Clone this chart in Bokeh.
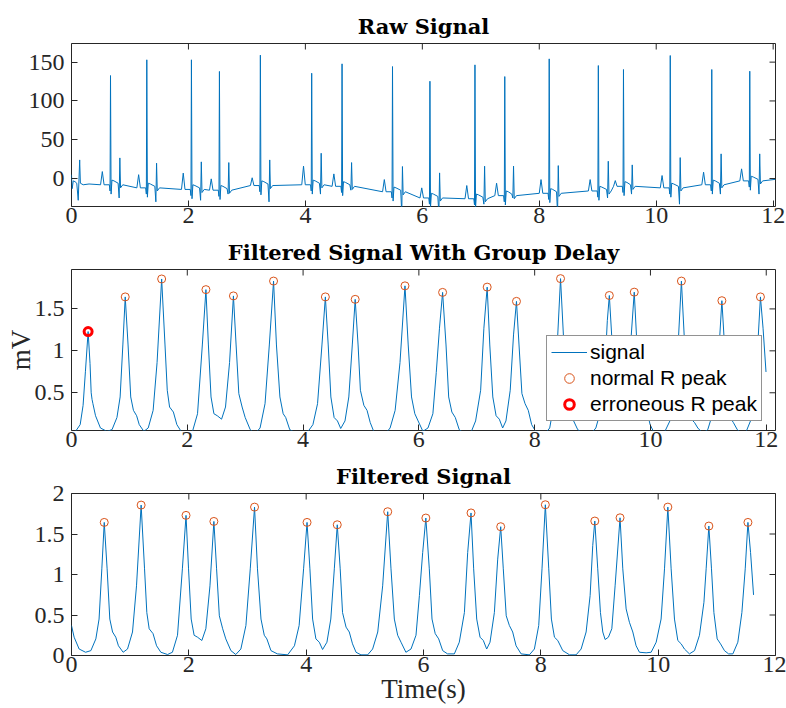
import math
from bokeh.plotting import figure
from bokeh.layouts import column
from bokeh.models import Range1d, FixedTicker, Legend, LegendItem
from bokeh.embed import file_html
from bokeh.resources import INLINE

# ---------------- data ----------------
# Raw signal: per-beat readings
r_time = [0.667, 1.288, 2.051, 2.53, 3.23, 4.108, 4.627, 5.49, 6.13, 6.90, 7.41, 8.17, 9.01, 9.44, 10.24, 10.95, 11.60]
r_amp = [132.7, 153, 153, 138, 159, 135.7, 147.8, 144.3, 125.4, 146.5, 131.4, 154.2, 145.6, 140.5, 158.5, 140.5, 138.3]
baseline = [-8, -12, -14, -15, -9, -8, -10, -17, -25, -26, -22, -19, -16, -10, -12, -8, -3]
p_peak = [9, 5, 7, -0.4, 1, 16, 6, -1.3, -12, -9, -6, -1.3, -1.3, -2.6, 3.9, 8.2, 12.5]
s2_time = [0.827, 1.455, 2.22, 2.69, 3.39, 4.27, 4.79, 5.66, 6.295, 7.065, 7.56, 8.325, 9.18, 9.59, 10.41, 11.11, 11.77]
s2_amp = [26.6, 19.8, 21.5, 20.6, 24, 32.6, 20.6, 15.5, 7.3, 15.9, 16, 16.7, 22.3, 17.6, 27, 31.8, 31.8]
dip_val = [-25, -30, -28, -20, -30, -20, -15, -45, -45, -33, -25, -45, -25, -20, -33, -20, -20]
raw_lead_t = [0.0, 0.004, 0.012, 0.03, 0.06, 0.09, 0.115, 0.14, 0.152, 0.2, 0.3]
raw_lead_v = [5, -2, -13, -3, -4, -6, -28, 24, -6, -8, -7]
raw_tail_t = [12.04]
raw_tail_v = [-1]

# Filtered signal (time axis with group delay removed)
filt_t = [-0.37, -0.30, -0.22, -0.17, -0.13, -0.083, -0.05, -0.03, -0.015, 0.0,
          0.045, 0.13, 0.24, 0.33, 0.415, 0.47, 0.517, 0.558, 0.607, 0.653, 0.70, 0.755, 0.80, 0.88, 0.955,
          1.04, 1.108, 1.187, 1.245, 1.284, 1.324, 1.39, 1.45, 1.523, 1.637, 1.72, 1.807, 1.89, 1.952, 1.995,
          2.04, 2.09, 2.148, 2.222, 2.29, 2.36, 2.427, 2.473, 2.52, 2.577, 2.63, 2.717, 2.80, 2.887, 2.973,
          3.047, 3.12, 3.17, 3.23, 3.286, 3.33, 3.40, 3.51, 3.684, 3.80, 3.88, 3.956, 4.015, 4.064, 4.11,
          4.166, 4.224, 4.28, 4.354, 4.42, 4.48, 4.53, 4.58, 4.62, 4.68, 4.735, 4.79, 4.85, 4.934, 5.048,
          5.133, 5.22, 5.304, 5.39, 5.446, 5.503, 5.56, 5.617, 5.70, 5.787, 5.872, 5.93, 5.986, 6.04, 6.099,
          6.145, 6.20, 6.259, 6.327, 6.41, 6.526, 6.61, 6.697, 6.753, 6.81, 6.855, 6.907, 6.964, 7.02, 7.077,
          7.134, 7.208, 7.265, 7.316, 7.36, 7.41, 7.464, 7.52, 7.578, 7.664, 7.805, 7.89, 7.964, 8.02, 8.077,
          8.135, 8.18, 8.232, 8.289, 8.374, 8.49, 8.601, 8.687, 8.772, 8.84, 8.885, 8.92, 8.97, 9.016, 9.056,
          9.096, 9.152, 9.21, 9.266, 9.35, 9.397, 9.454, 9.51, 9.568, 9.624, 9.681, 9.795, 9.88, 9.966, 10.05,
          10.108, 10.165, 10.221, 10.278, 10.335, 10.392, 10.448, 10.533, 10.62, 10.704, 10.78, 10.818, 10.864,
          10.909, 10.95, 11.006, 11.063, 11.13, 11.20, 11.273, 11.358, 11.427, 11.484, 11.53, 11.575, 11.626]
filt_v = [0.03, 0.04, 0.12, 0.35, 0.75, 1.23, 0.85, 0.5, 0.42, 0.37,
          0.226, 0.08, 0.04, 0.06, 0.205, 0.45, 1.07, 1.643, 1.07, 0.45, 0.29, 0.226, 0.12, 0.04, 0.08,
          0.29, 0.86, 1.857, 1.07, 0.53, 0.33, 0.27, 0.12, 0.04, 0.012, 0.04, 0.25, 1.07, 1.73, 1.07,
          0.45, 0.25, 0.226, 0.185, 0.33, 0.86, 1.655, 1.07, 0.49, 0.33, 0.205, 0.06, 0.012, 0.08, 0.37,
          1.07, 1.832, 1.07, 0.45, 0.25, 0.205, 0.06, 0.02, 0.008, 0.12, 0.37, 1.07, 1.643, 1.07, 0.45,
          0.205, 0.164, 0.074, 0.164, 0.45, 1.07, 1.614, 1.07, 0.53, 0.35, 0.29, 0.144, 0.04, 0.008, 0.008,
          0.08, 0.29, 0.86, 1.775, 1.07, 0.45, 0.25, 0.164, 0.04, 0.08, 0.25, 0.74, 1.27, 1.697, 1.07,
          0.45, 0.27, 0.205, 0.06, 0.02, 0.02, 0.164, 0.53, 1.27, 1.76, 1.07, 0.45, 0.226, 0.185, 0.08,
          0.164, 0.53, 1.19, 1.59, 1.07, 0.49, 0.37, 0.29, 0.12, 0.02, 0.008, 0.08, 0.37, 1.07, 1.861,
          1.07, 0.45, 0.226, 0.185, 0.06, 0.008, 0.008, 0.08, 0.29, 0.74, 1.36, 1.66, 1.07, 0.53, 0.29,
          0.197, 0.226, 0.33, 0.86, 1.70, 1.07, 0.575, 0.41, 0.29, 0.12, 0.04, 0.033, 0.04, 0.164, 0.45,
          1.07, 1.832, 1.07, 0.45, 0.185, 0.144, 0.08, 0.02, 0.06, 0.25, 0.657, 1.07, 1.598,
          1.07, 0.53, 0.205, 0.144, 0.06, 0.02, 0.02, 0.164, 0.53, 1.07, 1.643, 1.27, 0.748]

peak_t = [0.558, 1.187, 1.952, 2.427, 3.12, 4.015, 4.53, 5.39, 6.04, 6.81, 7.316, 8.077, 8.92, 9.35, 10.165, 10.864, 11.53]
peak_v = [1.643, 1.857, 1.73, 1.655, 1.832, 1.643, 1.614, 1.775, 1.697, 1.76, 1.59, 1.861, 1.66, 1.70, 1.832, 1.598, 1.643]
err_t = [-0.083]
err_v = [1.23]
group_delay = 0.37

x_ticks = [0, 2, 4, 6, 8, 10, 12]
y1_ticks = [0, 50, 100, 150]
y2_ticks = [0.5, 1, 1.5]
y3_ticks = [0, 0.5, 1, 1.5, 2]
tick_text = {0: "0", 0.5: "0.5", 1: "1", 1.5: "1.5", 2: "2"}

# ---------------- build raw polyline from readings ----------------
raw_t = list(raw_lead_t)
raw_v = list(raw_lead_v)
for i in range(len(r_time)):
    tr, A, b, pp = r_time[i], r_amp[i], baseline[i], p_peak[i]
    ts, sa, dv = s2_time[i], s2_amp[i], dip_val[i]
    seg_t = [tr - 0.17, tr - 0.14, tr - 0.11, tr - 0.02, tr - 0.008, tr, tr + 0.01, tr + 0.025, tr + 0.06,
             ts - 0.03, ts - 0.012, ts, ts + 0.012, ts + 0.05]
    seg_v = [b, pp, b, b, b - 8, A, b - 12, b + 6, b + 5, b + 2, dv, sa, b - 4, b]
    raw_t += seg_t
    raw_v += seg_v
raw_t += raw_tail_t
raw_v += raw_tail_v

BLUE = "#0072BD"
ORANGE = "#D95319"
AX = "#262626"
SERIF = "Liberation Serif"


def make_fig(h, top, bottom, xr, yr, title):
    p = figure(width=786, height=h, output_backend="svg", toolbar_location=None,
               x_range=Range1d(*xr), y_range=Range1d(*yr),
               min_border_left=71, min_border_right=11, min_border_top=top, min_border_bottom=bottom)
    p.title.text = title
    p.title.text_font = "DejaVu Serif"
    p.title.text_font_style = "bold"
    p.title.text_font_size = "21px"
    p.title.align = "center"
    p.title.vertical_align = "middle"
    p.title.text_color = "#000000"
    p.title.standoff = 8
    p.grid.visible = False
    p.outline_line_color = AX
    p.outline_line_width = 1
    p.outline_line_alpha = 1
    p.background_fill_color = "white"
    return p


def style_axes(p, xr, yr, yt):
    for ax in p.xaxis:
        ax.ticker = FixedTicker(ticks=x_ticks)
        ax.major_label_standoff = 1
    for ax in p.yaxis:
        ax.ticker = FixedTicker(ticks=yt)
        ax.major_label_overrides = {k: v for k, v in tick_text.items() if k in yt}
        ax.major_label_standoff = 7
    for ax in list(p.xaxis) + list(p.yaxis):
        ax.axis_line_color = None
        ax.major_tick_in = 6
        ax.major_tick_out = 0
        ax.major_tick_line_color = AX
        ax.minor_tick_line_color = None
        ax.major_label_text_font = SERIF
        ax.major_label_text_font_size = "24px"
        ax.major_label_text_color = AX
        ax.axis_label_text_font = SERIF
        ax.axis_label_text_font_style = "normal"
        ax.axis_label_text_color = AX
    # mirrored ticks on the top and right edges (box on), clipped to the frame
    p.scatter(x_ticks, [yr[1]] * len(x_ticks), marker="dash", angle=math.pi / 2, size=12,
              line_color=AX, line_width=1)
    p.scatter([xr[1]] * len(yt), yt, marker="dash", size=12, line_color=AX, line_width=1)


# Panel 1: raw signal
xr1, yr1 = (0, 12.04), (-36, 174)
p1 = make_fig(234, 43, 28, xr1, yr1, "Raw Signal")
p1.line(raw_t, raw_v, line_color=BLUE, line_width=1)
style_axes(p1, xr1, yr1, y1_ticks)

# Panel 2: filtered with group delay
xr2, yr2 = (0, 12.16), (0.05, 1.97)
p2 = make_fig(224, 35, 28, xr2, yr2, "Filtered Signal With Group Delay")
x2 = [t + group_delay for t in filt_t]
l2 = p2.line(x2, filt_v, line_color=BLUE, line_width=1)
n2 = p2.scatter([t + group_delay for t in peak_t], peak_v, marker="circle", size=8,
                fill_color=None, line_color=ORANGE, line_width=1)
e2 = p2.scatter([t + group_delay for t in err_t], err_v, marker="circle", size=8,
                fill_color=None, line_color="#FF0000", line_width=3)
style_axes(p2, xr2, yr2, y2_ticks)
p2.yaxis.axis_label = "mV"
p2.yaxis.axis_label_text_font_size = "27px"
p2.yaxis.axis_label_standoff = -4
legend = Legend(items=[LegendItem(label="signal", renderers=[l2]),
                       LegendItem(label="normal R peak", renderers=[n2]),
                       LegendItem(label="erroneous R peak", renderers=[e2])],
                location=(475, 9), margin=0, padding=4, spacing=2,
                glyph_width=36, glyph_height=24, label_height=24, label_standoff=3,
                label_text_font="Liberation Sans", label_text_font_size="21px",
                label_text_color="#000000",
                border_line_color=AX, border_line_width=1,
                background_fill_color="white", background_fill_alpha=1)
p2.add_layout(legend)

# Panel 3: filtered signal (delay removed)
x3 = [t for t in filt_t if t >= 0]
v3 = [v for t, v in zip(filt_t, filt_v) if t >= 0]
xr3, yr3 = (0, 12), (0, 2)
p3 = make_fig(250, 35, 53, xr3, yr3, "Filtered Signal")
p3.line(x3, v3, line_color=BLUE, line_width=1)
p3.scatter(peak_t, peak_v, marker="circle", size=8, fill_color=None, line_color=ORANGE, line_width=1)
style_axes(p3, xr3, yr3, y3_ticks)
p3.xaxis.axis_label = "Time(s)"
p3.xaxis.axis_label_text_font_size = "27px"
p3.xaxis.axis_label_standoff = -1

layout = column(p1, p2, p3, spacing=0)
open("out.html", "w").write(file_html(layout, INLINE))
